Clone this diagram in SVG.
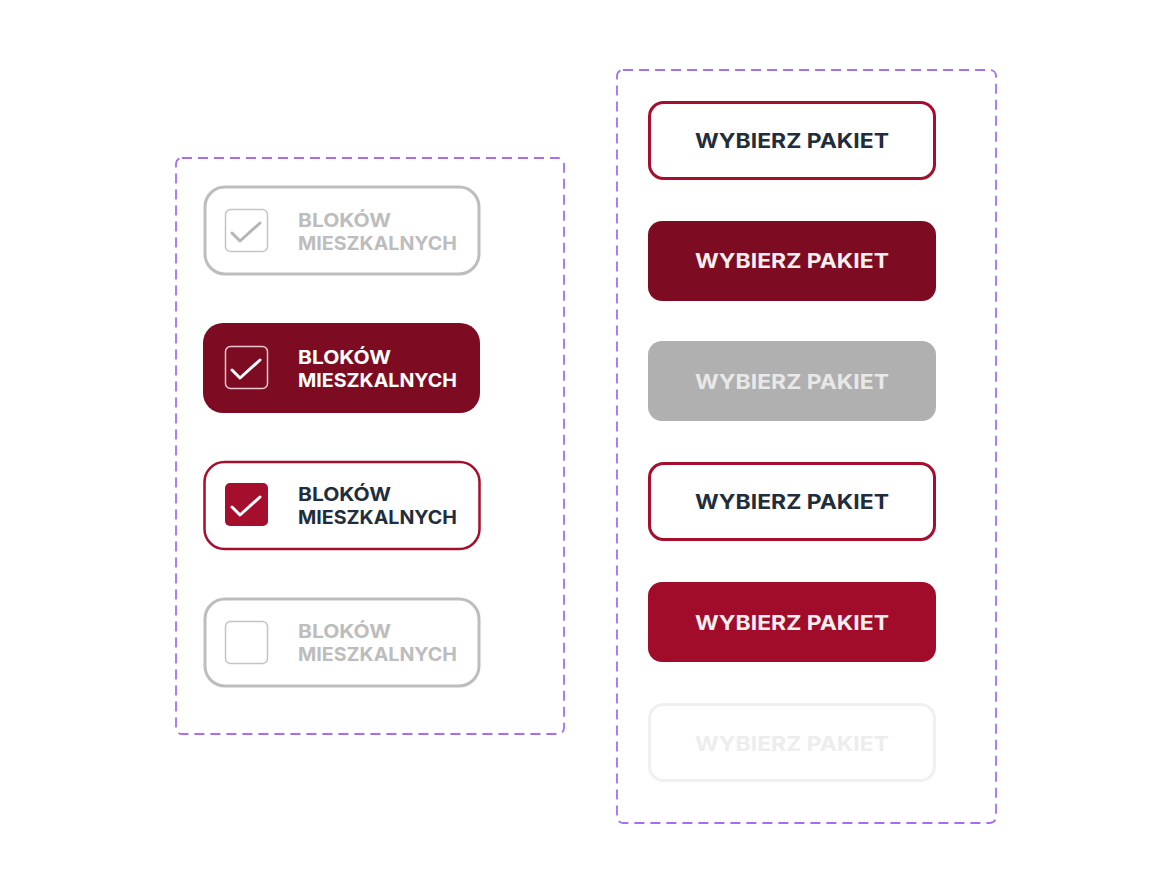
<svg xmlns="http://www.w3.org/2000/svg" width="1172" height="893" viewBox="0 0 1172 893">
<style>
.frame{fill:none;stroke:#a66ef5;stroke-width:1.8;stroke-dasharray:10 6}
.lbl{font-family:Inter,"Open Sans","Liberation Sans",sans-serif;font-weight:700;font-size:19px}
.btn{font-family:Inter,"Open Sans","Liberation Sans",sans-serif;font-weight:700;font-size:20.5px;text-anchor:middle}
.chk{fill:none;stroke-width:3;stroke-linecap:round;stroke-linejoin:round}
</style>
<rect width="1172" height="893" fill="#ffffff"/>
<g id="frame-left"><rect class="frame" x="176" y="158" width="388" height="576" rx="6"/></g>
<g id="frame-right"><rect class="frame" x="617" y="70" width="379" height="753" rx="6"/></g>

<g id="checkbox-1">
<rect x="205" y="187" width="274" height="87" rx="20" fill="#fff" stroke="#bdbdbd" stroke-width="3"/>
<rect x="225.5" y="209.5" width="42" height="42" rx="5" fill="#fff" stroke="#c4c4c4" stroke-width="1.5"/>
<path class="chk" d="M232 233 L240 241 L260 223" stroke="#b5b5b5"/>
<text class="lbl" fill="#bdbdbd"><tspan x="298" y="227" textLength="93" lengthAdjust="spacingAndGlyphs">BLOKÓW</tspan><tspan x="298" y="250" textLength="159" lengthAdjust="spacingAndGlyphs">MIESZKALNYCH</tspan></text>
</g>

<g id="checkbox-2">
<rect x="203" y="323" width="277" height="90" rx="20" fill="#7d0c22"/>
<rect x="225.5" y="346.5" width="42" height="42" rx="5" fill="none" stroke="#e9c9cf" stroke-width="1.5"/>
<path class="chk" d="M232 370 L240 378 L260 360" stroke="#ffffff"/>
<text class="lbl" fill="#ffffff"><tspan x="298" y="364" textLength="93" lengthAdjust="spacingAndGlyphs">BLOKÓW</tspan><tspan x="298" y="387" textLength="159" lengthAdjust="spacingAndGlyphs">MIESZKALNYCH</tspan></text>
</g>

<g id="checkbox-3">
<rect x="204.5" y="462" width="275" height="87" rx="20" fill="#fff" stroke="#a50e2d" stroke-width="2.5"/>
<rect x="225" y="483" width="43" height="43" rx="5" fill="#a50e2d"/>
<path class="chk" d="M232 507 L240 515 L260 497" stroke="#ffffff"/>
<text class="lbl" fill="#1f2d3d"><tspan x="298" y="501" textLength="93" lengthAdjust="spacingAndGlyphs">BLOKÓW</tspan><tspan x="298" y="524" textLength="159" lengthAdjust="spacingAndGlyphs">MIESZKALNYCH</tspan></text>
</g>

<g id="checkbox-4">
<rect x="205" y="599" width="274" height="87" rx="20" fill="#fff" stroke="#bdbdbd" stroke-width="3"/>
<rect x="225.5" y="621.5" width="42" height="42" rx="5" fill="#fff" stroke="#c4c4c4" stroke-width="1.5"/>
<text class="lbl" fill="#bdbdbd"><tspan x="298" y="638" textLength="93" lengthAdjust="spacingAndGlyphs">BLOKÓW</tspan><tspan x="298" y="661" textLength="159" lengthAdjust="spacingAndGlyphs">MIESZKALNYCH</tspan></text>
</g>

<g id="button-1">
<rect x="649.5" y="102.5" width="285" height="76" rx="14" fill="#fff" stroke="#a50e2d" stroke-width="3"/>
<text class="btn" x="792" y="148" fill="#1f2d3d" textLength="194" lengthAdjust="spacingAndGlyphs">WYBIERZ PAKIET</text>
</g>
<g id="button-2">
<rect x="648" y="221" width="288" height="80" rx="14" fill="#7d0c22"/>
<text class="btn" x="792" y="268" fill="#f7eef0" textLength="194" lengthAdjust="spacingAndGlyphs">WYBIERZ PAKIET</text>
</g>
<g id="button-3">
<rect x="648" y="341" width="288" height="80" rx="14" fill="#b0b0b0"/>
<text class="btn" x="792" y="389" fill="#e8e8e8" textLength="194" lengthAdjust="spacingAndGlyphs">WYBIERZ PAKIET</text>
</g>
<g id="button-4">
<rect x="649.5" y="463.5" width="285" height="76" rx="14" fill="#fff" stroke="#a50e2d" stroke-width="3"/>
<text class="btn" x="792" y="509" fill="#1f2d3d" textLength="194" lengthAdjust="spacingAndGlyphs">WYBIERZ PAKIET</text>
</g>
<g id="button-5">
<rect x="648" y="582" width="288" height="80" rx="14" fill="#a00c2a"/>
<text class="btn" x="792" y="630" fill="#f7eef0" textLength="194" lengthAdjust="spacingAndGlyphs">WYBIERZ PAKIET</text>
</g>
<g id="button-6">
<rect x="649.5" y="704.5" width="285" height="76" rx="14" fill="#fff" stroke="#f0f0f0" stroke-width="3"/>
<text class="btn" x="792" y="751" fill="#ededed" textLength="194" lengthAdjust="spacingAndGlyphs">WYBIERZ PAKIET</text>
</g>
<g id="connectors"/>
</svg>
